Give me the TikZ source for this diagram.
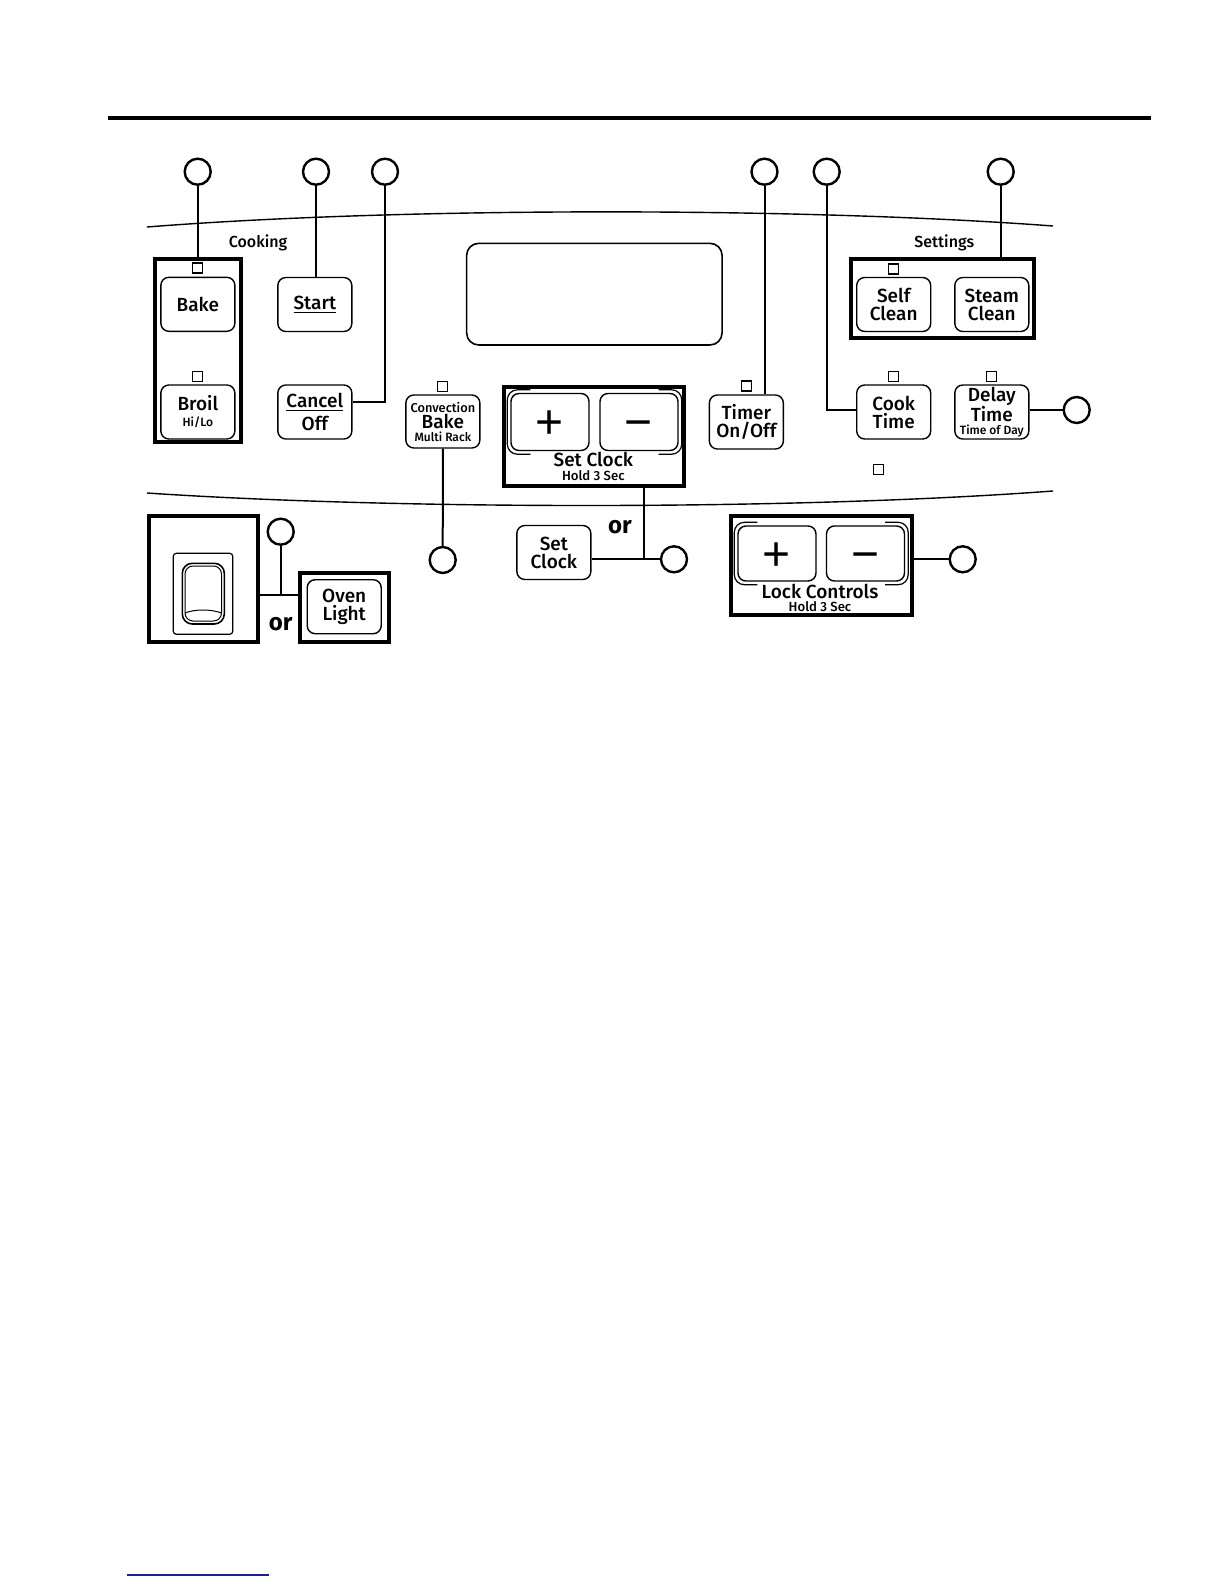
\documentclass[tikz,border=0pt]{standalone}
\usepackage{fontspec}
\setmainfont{Fira Sans}[UprightFont={* Medium}, BoldFont={* Bold}]
\newfontfamily\keyfont{Liberation Sans}
\usetikzlibrary{positioning, calc}
\definecolor{navyline}{RGB}{30,30,140}

\begin{document}
\begin{tikzpicture}[
    x=0.5pt, y=-0.5pt,
    btn/.style={draw, rounded corners=4pt, line width=0.7pt, minimum width=37pt, minimum height=27pt, inner sep=0pt, align=center, font=\fontsize{9.5}{9}\selectfont},
    grp/.style={draw, line width=2pt, inner sep=0pt},
    callout/.style={circle, draw, line width=1.2pt, minimum size=13pt, inner sep=0pt},
    conn/.style={line width=1pt},
    led/.style={draw, line width=0.6pt, minimum size=5pt, inner sep=0pt},
    pmkey/.style={btn, minimum width=39pt, minimum height=28.5pt, text height=16.8pt, text depth=0pt, font=\keyfont\fontsize{24}{24}\selectfont},
    caption/.style={font=\fontsize{8}{8}\selectfont},
    small/.style={font=\fontsize{6}{6}\selectfont},
    hold/.style={font=\fontsize{6.6}{6.6}\selectfont}
]
\useasboundingbox (0,0) rectangle (1224,1584);

% --- RULE AND PANEL EDGES ---
\draw[line width=2pt] (108,118) -- (1151,118);
\draw[line width=0.7pt] (147,227) .. controls (400,207) and (800,207) .. (1053,226);
\draw[line width=0.7pt] (147,493) .. controls (400,510) and (800,510) .. (1053,491);

% --- COOKING ---
\node[caption] (lbl-cooking) at (258,243) {Cooking};
\node[grp, minimum width=43pt, minimum height=91.5pt] (bakegrp) at (198,350.5) {};
\node[led] (led-bake) at (197.7,268) {};
\node[btn] (bake) at (197.85,304.3) {Bake};
\node[led] (led-broil) at (197.7,376.7) {};
\node[btn] (broil) at (197.85,412) {Broil\\[-1pt]{\fontsize{6}{6}\selectfont Hi/Lo}};
\node[btn] (start) at (314.85,304.5) {\underline{Start}};
\node[btn] (cancel) at (314.85,412) {\underline{Cancel}\\[1pt]Off};

% --- DISPLAY ---
\node[draw, rounded corners=6pt, line width=0.8pt, minimum width=127.7pt, minimum height=50.8pt] (disp) at (594.35,294.15) {};

% --- CONVECTION / CLOCK / TIMER ---
\node[led] (led-conv) at (442.7,386.7) {};
\node[btn, minimum height=26.5pt] (conv) at (442.85,421.5) {{\fontsize{6.4}{6}\selectfont Convection}\\[-1pt]Bake\\[-2.5pt]{\fontsize{6}{6}\selectfont Multi Rack}};

\node[grp, minimum width=89.8pt, minimum height=49.7pt] (clockgrp) at (594.15,436.65) {};
\node[pmkey] (clkplus) at (550,422) {+};
\node[pmkey] (clkminus) at (639,422) {−};
\node[font=\fontsize{9.5}{9}\selectfont] (clklabel) at (593.3,459) {Set Clock};
\node[hold] (clkhold) at (593.3,476) {Hold 3 Sec};

\node[led] (led-timer) at (746.7,386) {};
\node[btn] (timer) at (746.35,422) {Timer\\On/Off};

% --- SETTINGS ---
\node[caption] (lbl-settings) at (944.3,242.7) {Settings};
\node[grp, minimum width=91.5pt, minimum height=39.7pt] (setgrp) at (942.5,298.3) {};
\node[led] (led-self) at (893.3,269) {};
\node[btn] (self) at (893.7,304.5) {Self\\Clean};
\node[btn] (steam) at (991.8,304.5) {Steam\\Clean};
\node[led] (led-cook) at (893.3,376.7) {};
\node[btn] (cook) at (893.7,412) {Cook\\Time};
\node[led] (led-delay) at (991.7,376.7) {};
\node[btn] (delay) at (991.8,412) {Delay\\[-1pt]Time\\[-2.5pt]{\fontsize{6}{6}\selectfont Time of Day}};
\node[led] (led-x) at (878.6,469.6) {};

% --- LOWER ROW ---
\node[grp, minimum width=54.3pt, minimum height=63pt] (rockergrp) at (203.65,579) {};
\draw[line width=0.6pt, rounded corners=1.5pt] (173.3,553.3) rectangle (232.7,634.3);
\draw[line width=0.8pt, rounded corners=5pt] (182.3,563.3) rectangle (224.3,624);
\draw[line width=0.5pt, rounded corners=4pt] (185,566) rectangle (221.5,621);
\draw[line width=0.5pt] (185,613) .. controls (195,609) and (211,609) .. (221.5,613);

\node[grp, minimum width=44.5pt, minimum height=34.7pt] (lightgrp) at (344.2,607.35) {};
\node[btn] (light) at (344.2,606.7) {Oven\\Light};
\node[font=\bfseries\fontsize{12}{12}\selectfont] (or-light) at (280.7,624.5) {or};

\node[btn] (setclk) at (553.85,552.5) {Set\\Clock};
\node[font=\bfseries\fontsize{12}{12}\selectfont] (or-clock) at (620,526.7) {or};

\node[grp, minimum width=90.5pt, minimum height=49.3pt] (lockgrp) at (821.5,565.35) {};
\node[pmkey, minimum height=27.5pt] (lkplus) at (777,553.5) {+};
\node[pmkey, minimum height=27.5pt] (lkminus) at (865.5,553.5) {−};
\node[font=\fontsize{9.5}{9}\selectfont] (lklabel) at (820,591) {Lock Controls};
\node[hold] (lkhold) at (820,607) {Hold 3 Sec};

% double edge on the outer side of the +/- keys
\foreach \k in {clkplus, lkplus}
    \draw[line width=0.6pt, rounded corners=5pt] ($(\k.north west)+(10pt,1.5pt)$) -- ($(\k.north west)+(-1.5pt,1.5pt)$) -- ($(\k.south west)+(-1.5pt,-1.5pt)$) -- ($(\k.south west)+(10pt,-1.5pt)$);
\foreach \k in {clkminus, lkminus}
    \draw[line width=0.6pt, rounded corners=5pt] ($(\k.north east)+(-10pt,1.5pt)$) -- ($(\k.north east)+(1.5pt,1.5pt)$) -- ($(\k.south east)+(1.5pt,-1.5pt)$) -- ($(\k.south east)+(-10pt,-1.5pt)$);

% --- CALLOUTS ---
\node[callout] (c-bake) at (197.7,171.7) {};
\node[callout] (c-start) at (316,171.7) {};
\node[callout] (c-cancel) at (385,171.7) {};
\node[callout] (c-timer) at (764.5,171.7) {};
\node[callout] (c-cook) at (826.7,171.7) {};
\node[callout] (c-set) at (1000.7,171.7) {};
\node[callout] (c-delay) at (1076.7,410) {};
\node[callout] (c-light) at (280.7,531.7) {};
\node[callout] (c-conv) at (442.7,560) {};
\node[callout] (c-clock) at (674,559.3) {};
\node[callout] (c-lock) at (962.7,559.3) {};
\coordinate (j-light) at (280.7,595);
\coordinate (j-clock) at (644,559.3);

\draw[conn] (c-bake) -- (c-bake |- bakegrp.north);
\draw[conn] (c-start) -- (c-start |- start.north);
\draw[conn] (c-cancel) |- ([yshift=5pt]cancel.east);
\draw[conn] (c-timer) -- (c-timer |- timer.north);
\draw[conn] (c-cook) |- (cook.west |- c-delay);
\draw[conn] (c-set) -- (c-set |- setgrp.north);
\draw[conn] (delay.east |- c-delay) -- (c-delay);
\draw[conn] (conv.south) -- (c-conv);
\draw[conn] (c-light) -- (j-light);
\draw[conn] (rockergrp.east |- j-light) -- (lightgrp.west |- j-light);
\draw[conn] (j-clock |- clockgrp.south) -- (j-clock);
\draw[conn] (setclk.east |- c-clock) -- (c-clock);
\draw[conn] (lockgrp.east |- c-lock) -- (c-lock);

% --- FOOTER ---
\draw[navyline, line width=0.7pt] (126.7,1575) -- (269,1575);
\end{tikzpicture}
\end{document}
